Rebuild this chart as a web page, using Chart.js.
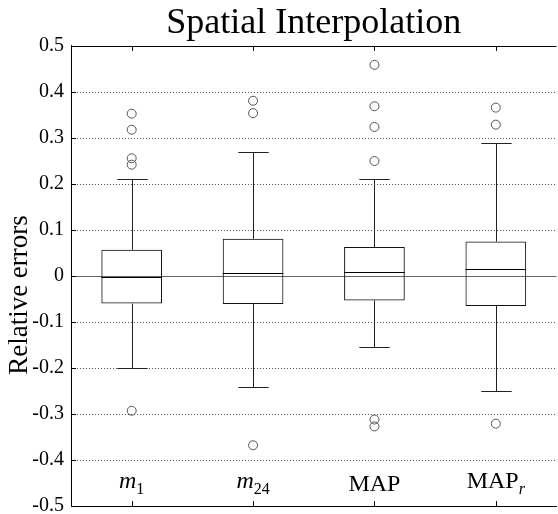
<!DOCTYPE html>
<html><head><meta charset="utf-8">
<script src="https://cdn.jsdelivr.net/npm/chart.js@4.4.1/dist/chart.umd.min.js"></script>
<style>html,body{margin:0;padding:0;overflow:hidden;background:#fff}canvas{display:block}</style>
</head><body>
<canvas id="c" width="562" height="514"></canvas>
<script>
// ---- data ----
const categories = ['m1', 'm24', 'MAP', 'MAPr'];
const q1 = [-0.060, -0.061, -0.053, -0.065];
const median = [-0.002, 0.006, 0.009, 0.015];
const q3 = [0.057, 0.081, 0.063, 0.075];
const whiskerLow = [-0.201, -0.241, -0.155, -0.250];
const whiskerHigh = [0.211, 0.270, 0.211, 0.289];
const outliersM1 = [0.353, 0.318, 0.256, 0.242, -0.293];
const outliersM24 = [0.381, 0.354, -0.368];
const outliersMAP = [0.459, 0.369, 0.324, 0.250, -0.312, -0.327];
const outliersMAPr = [0.366, 0.329, -0.321];
const yTickValues = [-0.5, -0.4, -0.3, -0.2, -0.1, 0, 0.1, 0.2, 0.3, 0.4, 0.5];
const yTickLabels = ['-0.5', '-0.4', '-0.3', '-0.2', '-0.1', '0', '0.1', '0.2', '0.3', '0.4', '0.5'];
// label parts: [text, style] style: n=normal, i=italic, sub=subscript, isub=italic subscript
const categoryLabelParts = [
  [['m', 'i'], ['1', 'sub']],
  [['m', 'i'], ['24', 'sub']],
  [['MAP', 'n']],
  [['MAP', 'n'], ['r', 'isub']]
];
const titleText = 'Spatial Interpolation';
const yTitleText = 'Relative errors';

const outlierGroups = [outliersM1, outliersM24, outliersMAP, outliersMAPr];
const outlierPoints = outlierGroups.flatMap((arr, i) => arr.map(v => ({x: categories[i], y: v})));
const boxRanges = categories.map((c, i) => [q1[i], q3[i]]);

const SERIF = "Liberation Serif, Times New Roman, serif";
Chart.defaults.font.family = SERIF;

const boxExtras = {
  id: 'boxExtras',
  beforeDatasetsDraw(chart) {
    const {ctx, chartArea: a, scales: {x, y}} = chart;
    ctx.save();
    // dotted grid lines
    ctx.lineWidth = 1;
    ctx.strokeStyle = '#555';
    ctx.setLineDash([1, 2]);
    y.ticks.forEach(t => {
      if (Math.abs(t.value) < 1e-9 || Math.abs(Math.abs(t.value) - 0.5) < 1e-9) return;
      const py = Math.round(y.getPixelForValue(t.value)) + 0.5;
      ctx.beginPath(); ctx.moveTo(a.left, py); ctx.lineTo(a.right, py); ctx.stroke();
    });
    ctx.setLineDash([]);
    // zero line
    ctx.strokeStyle = '#666';
    const z = Math.round(y.getPixelForValue(0)) + 0.5;
    ctx.beginPath(); ctx.moveTo(a.left, z); ctx.lineTo(a.right, z); ctx.stroke();
    // whiskers
    const meta = chart.getDatasetMeta(0);
    ctx.strokeStyle = '#222';
    categories.forEach((c, i) => {
      const bar = meta.data[i];
      const cx = Math.round(x.getPixelForValue(i)) + 0.5;
      const half = bar.width / 4;
      const yHi = Math.round(y.getPixelForValue(whiskerHigh[i])) + 0.5;
      const yLo = Math.round(y.getPixelForValue(whiskerLow[i])) + 0.5;
      const yQ3 = y.getPixelForValue(q3[i]);
      const yQ1 = y.getPixelForValue(q1[i]);
      ctx.beginPath();
      ctx.moveTo(cx, yQ3); ctx.lineTo(cx, yHi);
      ctx.moveTo(cx - half, yHi); ctx.lineTo(cx + half, yHi);
      ctx.moveTo(cx, yQ1); ctx.lineTo(cx, yLo);
      ctx.moveTo(cx - half, yLo); ctx.lineTo(cx + half, yLo);
      ctx.stroke();
    });
    ctx.restore();
  },
  afterDatasetsDraw(chart) {
    const {ctx, scales: {y}} = chart;
    const meta = chart.getDatasetMeta(0);
    ctx.save();
    ctx.strokeStyle = '#000';
    ctx.lineWidth = 1;
    categories.forEach((c, i) => {
      const bar = meta.data[i];
      const py = Math.round(y.getPixelForValue(median[i])) + 0.5;
      ctx.beginPath();
      ctx.moveTo(bar.x - bar.width / 2, py); ctx.lineTo(bar.x + bar.width / 2, py);
      ctx.stroke();
    });
    ctx.restore();
  },
  afterDraw(chart) {
    const {ctx, chartArea: a, scales: {x, y}} = chart;
    ctx.save();
    ctx.strokeStyle = '#000';
    ctx.lineWidth = 1;
    // top border
    const top = Math.round(a.top) + 0.5;
    ctx.beginPath(); ctx.moveTo(a.left, top); ctx.lineTo(a.right, top); ctx.stroke();
    // inward ticks top & bottom
    categories.forEach((c, i) => {
      const cx = Math.round(x.getPixelForValue(i)) + 0.5;
      ctx.beginPath();
      ctx.moveTo(cx, a.top); ctx.lineTo(cx, a.top + 5);
      ctx.moveTo(cx, a.bottom); ctx.lineTo(cx, a.bottom - 5);
      ctx.stroke();
    });
    // inward ticks on the left axis
    y.ticks.forEach(t => {
      const py = Math.round(y.getPixelForValue(t.value)) + 0.5;
      ctx.beginPath(); ctx.moveTo(a.left, py); ctx.lineTo(a.left + 5, py); ctx.stroke();
    });
    // category labels inside the plot
    ctx.fillStyle = '#000';
    ctx.textBaseline = 'alphabetic';
    ctx.textAlign = 'left';
    const yb = y.getPixelForValue(-0.5);
    const fontFor = s => ({
      n: '24px ' + SERIF,
      i: 'italic 24px ' + SERIF,
      sub: '16px ' + SERIF,
      isub: 'italic 16px ' + SERIF
    })[s];
    categoryLabelParts.forEach((parts, i) => {
      const hasSub = parts.some(p => p[1] === 'sub' || p[1] === 'isub');
      let total = 0;
      const widths = parts.map(p => { ctx.font = fontFor(p[1]); const w = ctx.measureText(p[0]).width; total += w; return w; });
      let px = x.getPixelForValue(i) - total / 2;
      parts.forEach((p, k) => {
        ctx.font = fontFor(p[1]);
        const isSub = p[1] === 'sub' || p[1] === 'isub';
        const by = hasSub ? (isSub ? yb - 12 : yb - 18.5) : yb - 15;
        ctx.fillText(p[0], px, by);
        px += widths[k];
      });
    });
    // y axis title
    ctx.translate(20, (a.top + a.bottom) / 2 + 19);
    ctx.rotate(-Math.PI / 2);
    ctx.textAlign = 'center';
    ctx.textBaseline = 'middle';
    ctx.font = '27px ' + SERIF;
    ctx.fillText(yTitleText, 0, 0);
    ctx.restore();
  }
};

new Chart(document.getElementById('c'), {
  type: 'bar',
  data: {
    labels: categories,
    datasets: [
      {
        type: 'bar',
        data: boxRanges,
        backgroundColor: 'rgba(0,0,0,0)',
        borderColor: '#111',
        borderWidth: 1,
        borderSkipped: false,
        barPercentage: 0.5,
        categoryPercentage: 1.0,
        order: 2
      },
      {
        type: 'line',
        data: outlierPoints,
        showLine: false,
        pointRadius: 4.5,
        pointHoverRadius: 4.5,
        pointBorderWidth: 1,
        pointBorderColor: '#555',
        pointBackgroundColor: 'rgba(255,255,255,0)',
        order: 1
      }
    ]
  },
  options: {
    responsive: false,
    animation: false,
    events: [],
    layout: {padding: {top: 0, right: 0, bottom: 0, left: 0}},
    plugins: {
      legend: {display: false},
      tooltip: {enabled: false},
      title: {
        display: true,
        text: titleText,
        fullSize: false,
        color: '#000',
        font: {family: SERIF, size: 36, weight: 'normal', lineHeight: 1.2},
        padding: {top: 2, bottom: 0.8}
      }
    },
    scales: {
      x: {
        type: 'category',
        offset: true,
        grid: {display: false, drawTicks: false},
        border: {display: true, color: '#000', width: 1},
        ticks: {display: false},
        afterFit: s => { s.height = 8; s.paddingLeft = 0; s.paddingRight = 0; }
      },
      y: {
        type: 'linear',
        min: -0.5,
        max: 0.5,
        grid: {display: false, drawTicks: false},
        border: {display: true, color: '#000', width: 1},
        afterBuildTicks: s => { s.ticks = yTickValues.map(v => ({value: v})); },
        ticks: {
          color: '#000',
          padding: 7,
          font: {family: SERIF, size: 20, weight: 'normal'},
          callback: v => {
            const k = yTickValues.findIndex(t => Math.abs(t - v) < 1e-9);
            return k >= 0 ? yTickLabels[k] : '';
          }
        },
        afterFit: s => { s.width = 71; s.paddingTop = 0; s.paddingBottom = 0; }
      }
    }
  },
  plugins: [boxExtras]
});
</script>
</body></html>
